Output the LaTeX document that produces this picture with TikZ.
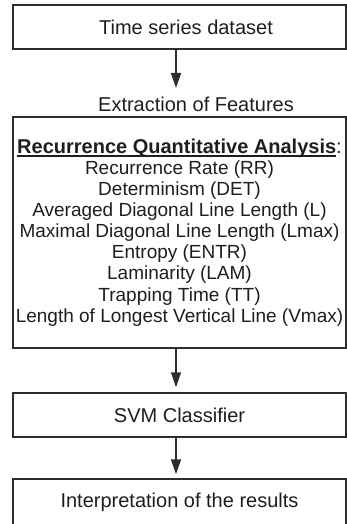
\documentclass[tikz,border=0pt]{standalone}
\usepackage{fontspec}
\setmainfont{Liberation Sans}
\usetikzlibrary{arrows.meta,positioning}
\definecolor{linecol}{RGB}{45,45,45}
\definecolor{textcol}{RGB}{30,30,30}
% bold heading with a rule drawn just under the baseline
\newcommand{\ulhead}[1]{\setbox0\hbox{\textbf{#1}}\rlap{\rule[-3.5pt]{\wd0}{1.5pt}}\box0}
\tikzset{
  % process box
  pbox/.style={rectangle, draw=linecol, line width=1.5pt, minimum width=333pt, minimum height=#1,
               inner sep=0pt, text=textcol, align=center, font=\fontsize{20}{21}\selectfont},
  pbox/.default={44pt},
  % box holding the list of measures
  listbox/.style={pbox=#1, font=\fontsize{19}{21.1}\selectfont},
  % caption between two boxes
  steplabel/.style={inner sep=0pt, text=textcol, font=\fontsize{20}{21}\selectfont},
  % flow arrow
  flowarrow/.style={-{Triangle[length=15pt,width=10pt]}, line width=1.5pt, draw=linecol},
}

\begin{document}
\begin{tikzpicture}[x=1pt,y=-1pt]
  \useasboundingbox (0,0) rectangle (347,524);

  % Boxes
  \node[pbox] (data) at (179.5,27) {\hspace*{13pt}Time series dataset};
  \node[steplabel] (extr) at (196,104) {Extraction of Features};
  \node[listbox=231pt] (rqa) at (179.5,232.5) {%
    {\fontsize{20}{21}\selectfont\ulhead{Recurrence Quantitative Analysis}:}\\
    Recurrence Rate (RR)\\
    Determinism (DET)\\
    Averaged Diagonal Line Length (L)\\
    Maximal Diagonal Line Length (Lmax)\\
    Entropy (ENTR)\\
    Laminarity (LAM)\\
    Trapping Time (TT)\\
    Length of Longest Vertical Line (Vmax)};
  \node[pbox] (svm) at (179.5,415) {SVM Classifier};
  \node[pbox=46pt] (interp) at (179.5,502) {Interpretation of the results};

  % Arrows
  \coordinate (tip1) at (176,88);
  \draw[flowarrow] ([xshift=-3.5pt]data.south) -- (tip1);
  \draw[flowarrow] ([xshift=-3.5pt]rqa.south) -- ([xshift=-3.5pt,yshift=5pt]svm.north);
  \draw[flowarrow] ([xshift=-3.5pt]svm.south) -- ([xshift=-3.5pt,yshift=4pt]interp.north);
\end{tikzpicture}
\end{document}
